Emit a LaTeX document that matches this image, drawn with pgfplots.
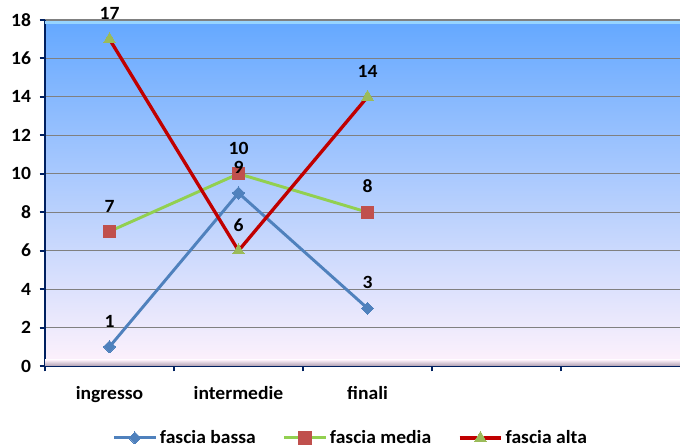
\documentclass[border=0pt]{standalone}
\usepackage{fontspec}
\setmainfont{Carlito}[FakeStretch=1.05, BoldFont={Carlito Bold}, BoldFeatures={FakeStretch=1.05}]
\usepackage{pgfplots}
\pgfplotsset{compat=1.18}
\definecolor{navy}{RGB}{0,32,96}
\definecolor{cblue}{RGB}{79,129,189}
\definecolor{clgreen}{RGB}{146,208,80}
\definecolor{csq}{RGB}{192,80,77}
\definecolor{cred}{RGB}{192,0,0}
\definecolor{ctri}{RGB}{155,187,89}
\definecolor{bgtop}{RGB}{100,168,255}
\definecolor{bgmid}{RGB}{172,210,252}
\definecolor{bgbot}{RGB}{255,242,252}
\definecolor{hilite}{RGB}{150,212,255}
\definecolor{shadow}{RGB}{175,160,178}
\begin{document}
\begin{tikzpicture}
\begin{axis}[
  at={(0,0)}, anchor=south west,
  scale only axis, width=476.25pt, height=259.5pt,
  xmin=-0.5, xmax=4.422, ymin=0, ymax=18,
  ytick={0,2,...,18},
  xtick={-0.5,0.5,1.5,2.5,3.5},
  xticklabels={},
  extra x ticks={0,1,2},
  extra x tick labels={ingresso,intermedie,finali},
  extra x tick style={major tick length=0pt, grid=none, tick label style={yshift=-12pt}},
  y tick label style={xshift=-3pt},
  ymajorgrids, major grid style={draw=gray, line width=0.8pt},
  axis x line*=bottom, axis y line*=left,
  axis line style={-, draw=navy, line width=2pt},
  tick align=outside, major tick length=4pt,
  tick style={draw=navy, line width=1.5pt},
  tick label style={font=\bfseries\fontsize{14}{16}\selectfont, black},
  /pgf/number format/assume math mode=true,
  axis background/.style={shade, top color=bgtop, middle color=bgmid, bottom color=bgbot},
  clip=false,
  every node near coord/.append style={font=\bfseries\fontsize{14}{16}\selectfont, black, yshift=11pt},
  legend columns=3,
  legend style={draw=none, fill=none, at={(0.482,-0.208)}, anchor=center,
    font=\bfseries\fontsize{14}{16}\selectfont,
    /tikz/every even column/.append style={column sep=18pt}},
  legend image code/.code={\draw[mark repeat=2,mark phase=2] plot coordinates {(0cm,0cm) (0.55cm,0cm) (1.1cm,0cm)};},
]
\fill[hilite] (rel axis cs:0,0.997) rectangle (rel axis cs:1,0.988);
\shade[top color=bgbot, bottom color=shadow] (rel axis cs:0,0.018) rectangle (rel axis cs:1,0);
\addplot[color=cblue, line width=2.2pt, mark=square*, mark size=3.2pt,
  mark options={rotate=45, fill=cblue, draw=cblue, line width=0pt}]
  coordinates {(0,1) (1,9) (2,3)};
\addlegendentry{fascia bassa}
\addplot[color=clgreen, line width=2.2pt, mark=square*, mark size=4.6pt,
  mark options={fill=csq, draw=csq, line width=0pt}]
  coordinates {(0,7) (1,10) (2,8)};
\addlegendentry{fascia media}
\addplot[color=cred, line width=2.5pt, mark=triangle*, mark size=5pt,
  mark options={fill=ctri, draw=ctri, line width=0pt}]
  coordinates {(0,17) (1,6) (2,14)};
\addlegendentry{fascia alta}
% data labels, drawn above all markers
\addplot[draw=none, mark=none, nodes near coords, forget plot] coordinates {(0,1) (1,9) (2,3)};
\addplot[draw=none, mark=none, nodes near coords, forget plot] coordinates {(0,7) (1,10) (2,8)};
\addplot[draw=none, mark=none, nodes near coords, forget plot] coordinates {(0,17) (1,6) (2,14)};
\end{axis}
\pgfresetboundingbox
\path (-33.75pt,-61.5pt) rectangle (476.25pt,274.5pt);
\end{tikzpicture}
\end{document}
